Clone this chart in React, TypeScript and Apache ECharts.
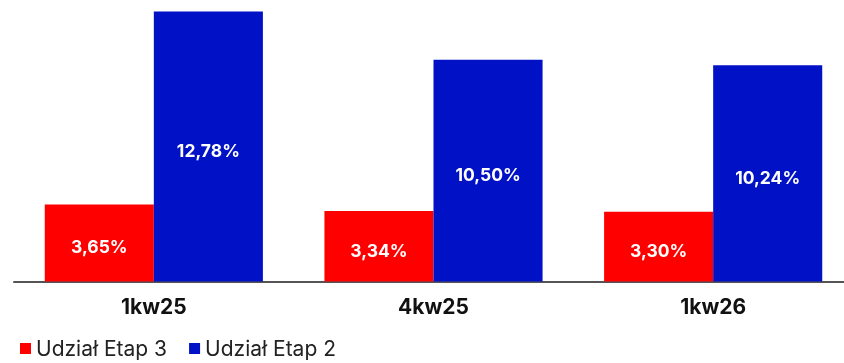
import React, { useEffect, useRef } from "react";
import * as echarts from "echarts";

const categories = ["1kw25", "4kw25", "1kw26"];
const etap3 = [3.65, 3.34, 3.3];
const etap2 = [12.78, 10.5, 10.24];
const seriesNames = ["Udział Etap 3", "Udział Etap 2"];

const fmt = (v: number) => v.toFixed(2).replace(".", ",") + "%";

export default function App() {
  const ref = useRef<HTMLDivElement>(null);

  useEffect(() => {
    if (!ref.current) return;
    const chart = echarts.init(ref.current, null, { renderer: "svg" });
    const label = {
      show: true,
      position: "inside" as const,
      offset: [0, 4],
      color: "#ffffff",
      fontFamily: "Inter",
      fontWeight: "bold" as const,
      fontSize: 17.5,
      formatter: (p: any) => fmt(p.value),
    };
    chart.setOption({
      animation: false,
      grid: { left: 14, right: 0, top: 11.5, bottom: 81.5 },
      legend: {
        left: 15,
        top: 333,
        icon: "rect",
        itemWidth: 11,
        itemHeight: 11,
        itemGap: 22,
        textStyle: { fontFamily: "Inter", fontSize: 21, color: "#222" },
        data: seriesNames,
      },
      xAxis: {
        type: "category",
        data: categories,
        axisLine: { lineStyle: { color: "#555", width: 2 } },
        axisTick: { show: false },
        axisLabel: {
          color: "#111",
          fontFamily: "Inter",
          fontWeight: "bold",
          fontSize: 21,
          margin: 14,
        },
      },
      yAxis: { type: "value", min: 0, max: 12.78, show: false, splitLine: { show: false } },
      series: [
        {
          name: seriesNames[0],
          type: "bar",
          data: etap3,
          barGap: "0%",
          barCategoryGap: "22%",
          itemStyle: { color: "#FF0000" },
          label,
        },
        {
          name: seriesNames[1],
          type: "bar",
          data: etap2,
          barGap: "0%",
          barCategoryGap: "22%",
          itemStyle: { color: "#0011C6" },
          label,
        },
      ],
    });
    return () => chart.dispose();
  }, []);

  return (
    <div style={{ position: "fixed", left: 0, top: 0, width: 844, height: 363, overflow: "hidden" }}>
      <div ref={ref} style={{ width: 853, height: 363 }} />
    </div>
  );
}
